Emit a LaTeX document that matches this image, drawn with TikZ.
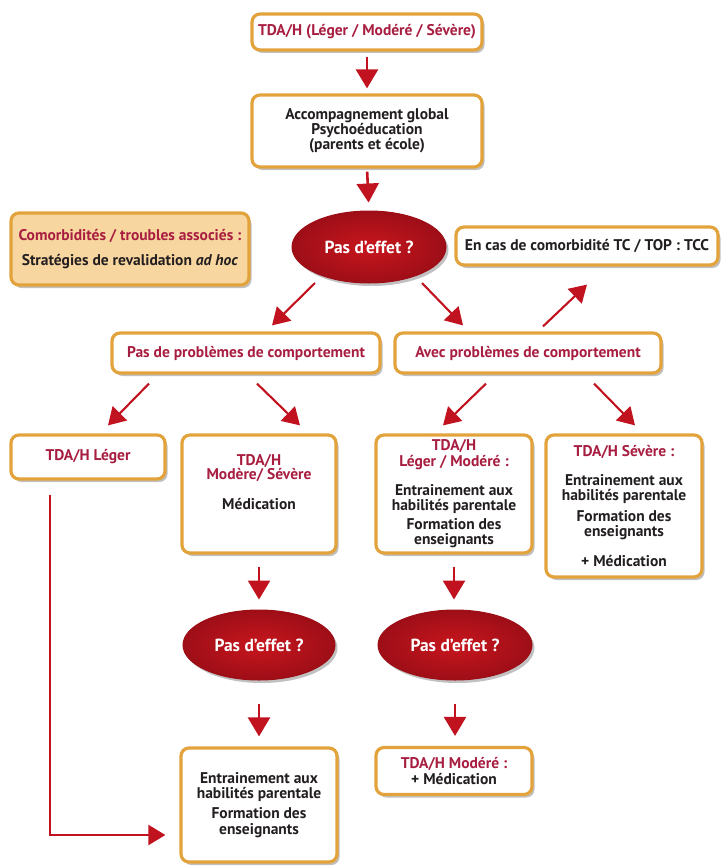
\documentclass[tikz,border=0pt]{standalone}
\usepackage{fontspec}
\setmainfont{PT Sans}
\usetikzlibrary{arrows.meta,shapes.geometric,shadows}
\definecolor{arrred}{HTML}{C1121F}
\definecolor{txtred}{HTML}{A81E40}
\definecolor{gold}{HTML}{E2A33C}
\definecolor{ellred}{HTML}{B3111C}
\definecolor{ellin}{HTML}{C8161E}
\definecolor{ellout}{HTML}{9E0E17}
\definecolor{peach}{HTML}{F8D6A0}
\definecolor{ink}{HTML}{231F20}
\tikzset{
  shad/.style={drop shadow={shadow xshift=2.5pt,shadow yshift=-3pt,opacity=0.35,fill=black!70}},
  box/.style={draw=gold,line width=3.2pt,rounded corners=8pt,fill=white,shad,
    align=center,inner sep=1pt,text=ink,font=\fontsize{15.5}{15.2}\selectfont\bfseries},
  lbl/.style={align=center,inner sep=0pt,text=ink,font=\fontsize{15.5}{15.2}\selectfont\bfseries},
  decision/.style={ellipse,inner color=ellin,outer color=ellout,draw=ellout,line width=1pt,shad,
    text=white,inner sep=0pt,font=\fontsize{17.5}{18}\selectfont\bfseries},
  arr/.style={draw=arrred,line width=2.6pt,-{Triangle[length=19pt,width=22pt]}},
  thinarr/.style={draw=arrred,line width=2.1pt,-{Triangle[length=17pt,width=20pt]}},
}
\begin{document}
\begin{tikzpicture}[x=1pt,y=-1pt]
\useasboundingbox (0,0) rectangle (720,867);
% boxes
\node[box,minimum width=230pt,minimum height=36pt,text=txtred] (top) at (367,32) {TDA/H (Léger / Modéré / Sévère)};
\node[box,minimum width=230pt,minimum height=72pt] (acc) at (367,131) {Accompagnement global\\Psychoéducation\\(parents et école)};
\node[decision,minimum width=154pt,minimum height=72pt] (eff1) at (369,247) {Pas d’effet ?};
\node[box,fill=peach,minimum width=238pt,minimum height=72pt] (comor) at (130,249)
  {\textcolor{txtred}{Comorbidités / troubles associés :}\\[9pt]Stratégies de revalidation \textit{ad hoc}};
\node[box,minimum width=262pt,minimum height=38pt] (tcc) at (587,246) {En cas de comorbidité TC / TOP : TCC};
\node[box,minimum width=268pt,minimum height=40pt,text=txtred] (pasprob) at (246,353) {Pas de problèmes de comportement};
\node[box,minimum width=266pt,minimum height=40pt,text=txtred] (avec) at (528,353) {Avec problèmes de comportement};
\node[box,minimum width=154pt,minimum height=44pt,text=txtred] (leger) at (88,457) {TDA/H Léger};
\node[box,minimum width=154pt,minimum height=118pt] (modsev) at (259,494) {};
\node[lbl] (modsevt) at (259,482) {\textcolor{txtred}{TDA/H}\\[-1pt]\textcolor{txtred}{Modère/ Sévère}\\[15pt]Médication};
\node[box,minimum width=156pt,minimum height=118pt] (legmod) at (454,494)
  {\textcolor{txtred}{TDA/H}\\\textcolor{txtred}{Léger / Modéré :}\\[14pt]Entrainement aux\\habilités parentale\\[4pt]Formation des\\enseignants};
\node[box,minimum width=156pt,minimum height=142pt] (severe) at (624,506)
  {\textcolor{txtred}{TDA/H Sévère :}\\[14pt]Entrainement aux\\habilités parentale\\[5pt]Formation des\\enseignants\\[15pt]+ Médication};
\node[decision,minimum width=152pt,minimum height=70pt] (eff2) at (259,645) {Pas d’effet ?};
\node[decision,minimum width=154pt,minimum height=70pt] (eff3) at (455,645) {Pas d’effet ?};
\node[box,minimum width=156pt,minimum height=114pt] (final) at (259,805)
  {Entrainement aux\\habilités parentale\\[5pt]Formation des\\enseignants};
\node[box,minimum width=156pt,minimum height=47pt] (modmed) at (454,771)
  {\textcolor{txtred}{TDA/H Modéré :}\\+ Médication};
% arrows
\draw[arr,shorten <=5pt,shorten >=5pt] (top.south) -- (acc.north);
\draw[arr,shorten <=3pt,shorten >=8pt] (acc.south) -- (eff1.north);
\draw[thinarr] ([xshift=-54pt,yshift=-36pt]eff1.center) -- ([xshift=26pt,yshift=6pt]pasprob.north);
\draw[thinarr] ([xshift=53pt,yshift=-36pt]eff1.center) -- ([xshift=-65pt,yshift=6pt]avec.north);
\draw[thinarr] ([xshift=15pt,yshift=5pt]avec.north) -- ([yshift=-18pt]tcc.south);
\draw[thinarr] ([xshift=-97pt,yshift=-9pt]pasprob.south) -- ([xshift=20pt,yshift=8pt]leger.north);
\draw[thinarr] ([xshift=11pt,yshift=-9pt]pasprob.south) -- ([xshift=41pt,yshift=8pt]modsev.north);
\draw[thinarr] ([xshift=-42pt,yshift=-9pt]avec.south) -- ([xshift=-11pt,yshift=8pt]legmod.north);
\draw[thinarr] ([xshift=66pt,yshift=-9pt]avec.south) -- ([xshift=11pt,yshift=8pt]severe.north);
\draw[arr,shorten <=12pt,shorten >=10pt] (modsev.south) -- (eff2.north);
\draw[arr,shorten <=12pt,shorten >=10pt] (legmod.south) -- (legmod.south |- eff3.north);
\draw[arr,shorten <=23pt,shorten >=10pt] (eff2.south) -- (final.north);
\draw[arr,shorten <=23pt,shorten >=10pt] (eff3.south) -- (eff3.south |- modmed.north);
\draw[thinarr] ([xshift=-38pt,yshift=-14pt]leger.south) |- ([xshift=-14pt,yshift=-30pt]final.west);
\end{tikzpicture}
\end{document}
